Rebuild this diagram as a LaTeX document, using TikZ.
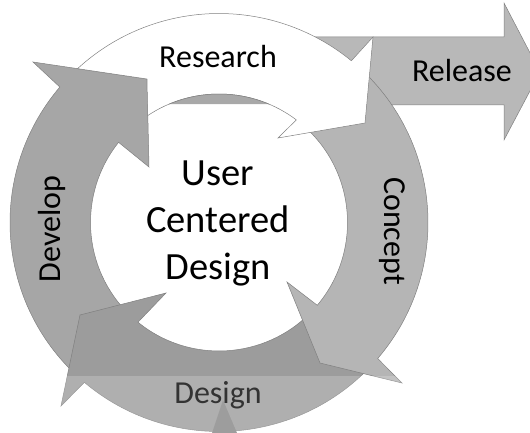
\documentclass[tikz,border=0pt]{standalone}
\usepackage{fontspec}
\setmainfont{Carlito}
\usetikzlibrary{positioning}

\begin{document}
\begin{tikzpicture}[x=1pt, y=1pt,
  ringarrow/.style={draw=black!50, line width=0.5pt, line join=miter},
  developarrow/.style={ringarrow, fill=black!35},
  designarrow/.style={ringarrow, fill=black!39},
  conceptarrow/.style={ringarrow, fill=black!29},
  researcharrow/.style={ringarrow, fill=white},
  releasearrow/.style={ringarrow, fill=black!28},
  phaselabel/.style={font=\fontsize{32}{38}\selectfont, inner sep=0pt},
  centerlabel/.style={font=\fontsize{38.5}{47}\selectfont, align=center, inner sep=0pt}
]
\useasboundingbox (-219,-210.5) rectangle (311,222.5);
\clip (-219,-210.5) rectangle (311,222.5);

% Release: straight arrow leaving the cycle
\draw[releasearrow] (61,117.5) -- (61,185.5) -- (285,185.5) -- (285,219.5)
  -- (321,150.5) -- (285,82.5) -- (285,117.5) -- cycle;

% Develop (left)
\draw[developarrow] (226:209) arc[start angle=226, end angle=139.6, radius=209]
  -- (-186,160.5) coordinate (devbarb) -- (-72,143.5) coordinate (devtip)
  -- (-70,55.5) coordinate (devinner) -- (141.4:128.5)
  arc[start angle=141.4, end angle=226, radius=128.5] -- cycle;

% Design (bottom)
\draw[designarrow] (-44:209) arc[start angle=-44, end angle=-130.1, radius=209]
  -- (-158,-183.5) -- (-139,-92.5) -- (-53,-70.5) -- (-129.1:128.5)
  arc[start angle=-129.1, end angle=-44, radius=128.5] -- cycle;

% Concept (right)
\draw[conceptarrow] (48:209) arc[start angle=48, end angle=-40.6, radius=209]
  -- (183,-160.5) -- (101,-140.5) -- (68,-59.5) -- (-40.1:128.5)
  arc[start angle=-40.1, end angle=48, radius=128.5] -- cycle;

% Research (top), its tail follows the Develop head
\draw[researcharrow] (devtip) -- (132.6:209)
  arc[start angle=132.6, end angle=50.7, radius=209]
  -- (154,185.5) -- (146,99.5) -- (59,84.5) -- (53:128.5)
  arc[start angle=53, end angle=123.7, radius=128.5] -- cycle;

% grey sliver under the Research arc
\fill[black!34] (67.2:128.5) arc[start angle=67.2, end angle=112.8, radius=128.5] -- cycle;
\draw[black!50, line width=0.5pt] (67.2:128.5) arc[start angle=67.2, end angle=112.8, radius=128.5];

% reflection spike
\fill[black!48] (4,-177.5) -- (18,-210.5) -- (-7,-210.5) -- cycle;

% Labels
\node[phaselabel] (research) at (-1,165.5) {Research};
\node[phaselabel] (release) at (243,151.5) {Release};
\node[phaselabel, rotate=90] (develop) at (-167,-6.5) {Develop};
\node[phaselabel, rotate=-90] (concept) at (173,-8.5) {Concept};
\node[phaselabel] (design) at (-1,-172.5) {Design};
\node[centerlabel] (ucd) at (-1,-0.5) {User\\Centered\\Design};

% reflection overlay
\fill[white, opacity=0.2] (-219,-153.5) rectangle (311,-210.5);

\end{tikzpicture}
\end{document}
